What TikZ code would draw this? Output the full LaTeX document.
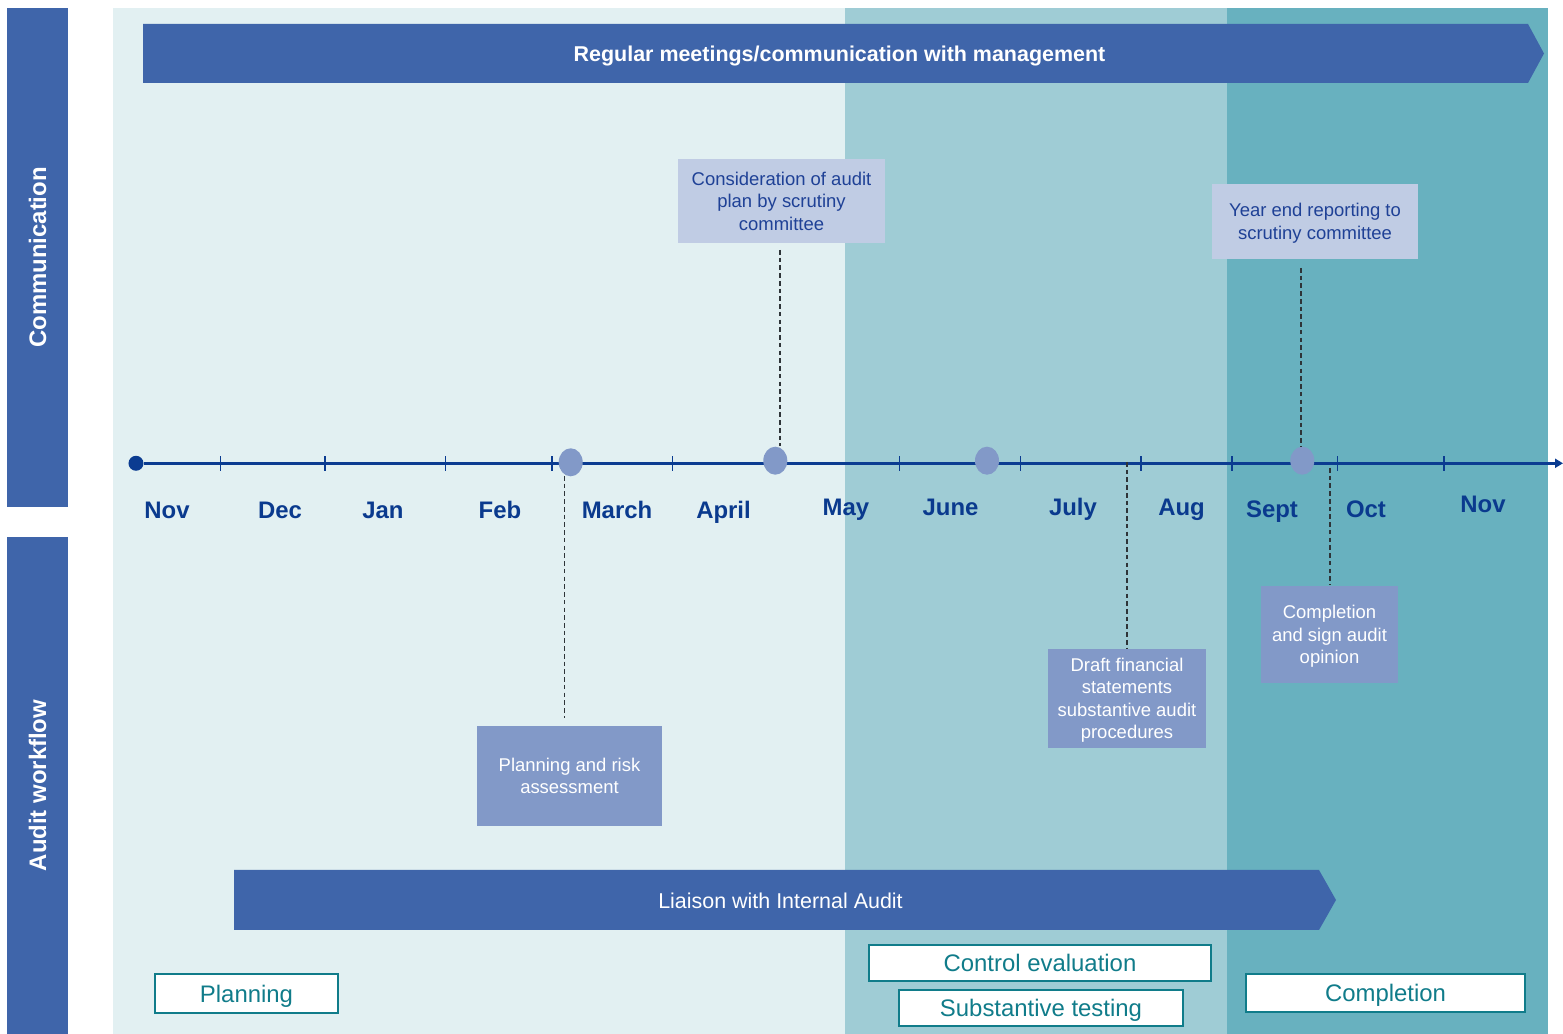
\documentclass[tikz,border=0pt]{standalone}
\usepackage{fontspec}
\setmainfont{Liberation Sans}
\usetikzlibrary{shapes.geometric,arrows.meta}
\definecolor{barblue}{HTML}{3F65AA}
\definecolor{bgA}{HTML}{E2F0F2}
\definecolor{bgB}{HTML}{9FCCD5}
\definecolor{bgC}{HTML}{68B1BF}
\definecolor{tlblue}{HTML}{0B3C91}
\definecolor{monthblue}{HTML}{0A3A8E}
\definecolor{periw}{HTML}{8299C8}
\definecolor{lilac}{HTML}{C0CCE4}
\definecolor{boxtext}{HTML}{1F4196}
\definecolor{tealc}{HTML}{107C8A}
\definecolor{guidec}{HTML}{2E3438}
\begin{document}
\begin{tikzpicture}[x=0.01cm,y=-0.01cm,
  sidebar/.style={fill=barblue,text=white,font=\bfseries\fontsize{6.8}{8}\selectfont,rotate=90,inner sep=0pt,minimum height=0.61cm},
  month/.style={text=monthblue,font=\bfseries\fontsize{6.8}{8}\selectfont,anchor=base,inner sep=0pt},
  litebox/.style={fill=lilac,text=boxtext,font=\fontsize{5.25}{6.4}\selectfont,align=center,inner sep=0pt,text depth=-0.8pt},
  medbox/.style={fill=periw,text=white,font=\fontsize{5.25}{6.4}\selectfont,align=center,inner sep=0pt,text depth=-0.8pt},
  phase/.style={draw=tealc,line width=0.45pt,fill=white,text=tealc,font=\fontsize{6.8}{8}\selectfont,inner sep=0pt,text depth=0pt},
  milestone/.style={ellipse,fill=periw,minimum width=0.24cm,minimum height=0.28cm,inner sep=0pt},
  tickline/.style={draw=tlblue,line width=0.4pt},
  guide/.style={draw=guidec,line width=0.45pt,dash pattern=on 1.3pt off 0.9pt},
  bandtext/.style={text=white,inner sep=0pt,text depth=0pt}
]
\useasboundingbox (0,0) rectangle (1563,1034);
\fill[white] (0,0) rectangle (1563,1034);
% background phases
\fill[bgA] (113,8) rectangle (845,1034);
\fill[bgB] (845,8) rectangle (1227,1034);
\fill[bgC] (1227,8) rectangle (1548,1034);
% side bars
\node[sidebar,minimum width=4.99cm] (comm) at (37.5,257.5) {Communication};
\node[sidebar,minimum width=4.97cm] (workflow) at (37.5,785.5) {Audit workflow};
% top arrow band
\fill[barblue] (143,24) -- (1528,24) -- (1544,53.5) -- (1528,83) -- (143,83) -- cycle;
\node[bandtext,font=\bfseries\fontsize{6.1}{7}\selectfont] (meet) at (839.5,54) {Regular meetings/communication with management};
% liaison arrow band
\fill[barblue] (234,870) -- (1319,870) -- (1336,900) -- (1319,930) -- (234,930) -- cycle;
\node[bandtext,font=\fontsize{6.1}{7}\selectfont] (liaison) at (780.5,900.5) {Liaison with Internal Audit};
% timeline
\node[circle,fill=tlblue,minimum size=0.15cm,inner sep=0pt] (start) at (136,463.3) {};
\coordinate (tlend) at (1563,463.3);
\draw[tlblue,line width=0.8pt,-{Triangle[length=0.08cm,width=0.09cm]}] (start) -- (tlend);
\foreach \x in {220.7,325,445.7,552,672.7,899.3,1020.7,1141,1232,1337.7,1444}
  \draw[tickline] (\x,456.5) -- (\x,471.5);
% milestones
\node[milestone] (e1) at (570.7,462.3) {};
\node[milestone] (e2) at (775.3,460.7) {};
\node[milestone] (e3) at (987,460.7) {};
\node[milestone] (e4) at (1302.3,460.7) {};
% months
\node[month] (m1) at (167,518.5) {Nov};
\node[month] (m2) at (280,518.5) {Dec};
\node[month] (m3) at (383,518.5) {Jan};
\node[month] (m4) at (500,518.5) {Feb};
\node[month] (m5) at (617,518.5) {March};
\node[month] (m6) at (723.5,518.5) {April};
\node[month] (m7) at (846,515.5) {May};
\node[month] (m8) at (950.5,515.5) {June};
\node[month] (m9) at (1073,515.5) {July};
\node[month] (m10) at (1181.5,515.5) {Aug};
\node[month] (m11) at (1272,517.5) {Sept};
\node[month] (m12) at (1366,517.5) {Oct};
\node[month] (m13) at (1483,512.5) {Nov};
% boxes
\node[litebox,minimum width=2.07cm,minimum height=0.84cm] (cons) at (781.5,201) {Consideration of audit\\plan by scrutiny\\committee};
\node[litebox,minimum width=2.06cm,minimum height=0.75cm,text depth=0.2pt] (year) at (1315,221.5) {Year end reporting to\\scrutiny committee};
\node[medbox,minimum width=1.85cm,minimum height=1.0cm] (plan) at (569.5,776) {Planning and risk\\assessment};
\node[medbox,minimum width=1.58cm,minimum height=0.99cm,text depth=0.2pt] (draft) at (1127,698.5) {Draft financial\\statements\\substantive audit\\procedures};
\node[medbox,minimum width=1.37cm,minimum height=0.97cm,text depth=0pt] (csign) at (1329.5,634.5) {Completion\\and sign audit\\opinion};
% dashed guides
\coordinate (g1) at (780,250);
\draw[guide] (g1) -- (g1 |- e2.north);
\coordinate (g2) at (1301,268);
\draw[guide] (g2) -- (g2 |- e4.north);
\coordinate (g3) at (564.5,476);
\coordinate (g3b) at (564.5,718);
\draw[guide] (g3) -- (g3b);
\coordinate (g4) at (1127,462);
\draw[guide] (g4) -- (draft.north);
\coordinate (g5) at (1330,468);
\draw[guide] (g5) -- (g5 |- csign.north);
% phase boxes
\node[phase,minimum width=1.83cm,minimum height=0.39cm] (pplan) at (246.5,993.5) {Planning};
\node[phase,minimum width=3.42cm,minimum height=0.36cm] (pcontrol) at (1040,963) {Control evaluation};
\node[phase,minimum width=2.84cm,minimum height=0.36cm] (psubst) at (1041,1008) {Substantive testing};
\node[phase,minimum width=2.79cm,minimum height=0.38cm] (pcompl) at (1385.5,993) {Completion};
\end{tikzpicture}
\end{document}
